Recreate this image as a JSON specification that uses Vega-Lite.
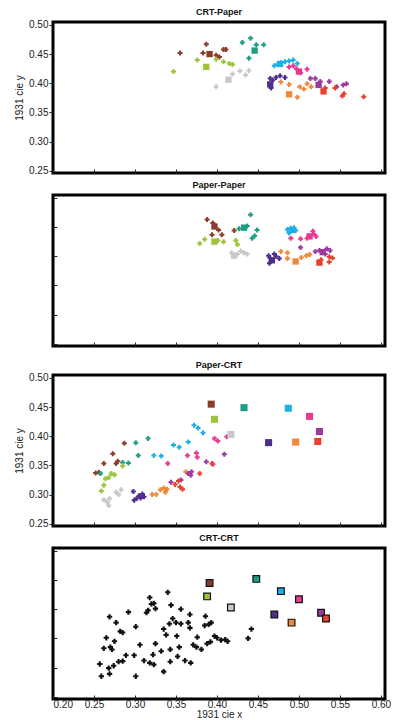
{
  "$schema": "https://vega.github.io/schema/vega-lite/v6.json",
  "padding": {"left": 13, "top": 6, "right": 4, "bottom": 2},
  "spacing": 1,
  "config": {
    "view": {"stroke": "black", "strokeWidth": 3},
    "font": "Liberation Sans",
    "title": {"fontSize": 9, "fontWeight": "bold", "offset": 3, "color": "#111"},
    "axis": {"grid": false, "domain": false, "labelFont": "Liberation Sans", "labelFontSize": 10, "labelColor": "#222", "tickColor": "#222", "titleFont": "Liberation Sans", "titleFontSize": 10, "titleFontWeight": "normal", "titleColor": "#222"}
  },
  "data": {"values": [
    {"p":1,"c":"brown","k":"m","x":0.355,"y":0.452},{"p":1,"c":"brown","k":"m","x":0.387,"y":0.467},{"p":1,"c":"brown","k":"m","x":0.383,"y":0.452},{"p":1,"c":"brown","k":"m","x":0.399,"y":0.448},{"p":1,"c":"brown","k":"m","x":0.408,"y":0.458},{"p":1,"c":"brown","k":"m","x":0.411,"y":0.458},{"p":1,"c":"brown","k":"m","x":0.403,"y":0.445},{"p":1,"c":"brown","k":"s","x":0.391,"y":0.450},
    {"p":1,"c":"yg","k":"m","x":0.347,"y":0.420},{"p":1,"c":"yg","k":"m","x":0.376,"y":0.440},{"p":1,"c":"yg","k":"m","x":0.399,"y":0.441},{"p":1,"c":"yg","k":"m","x":0.408,"y":0.437},{"p":1,"c":"yg","k":"m","x":0.415,"y":0.434},{"p":1,"c":"yg","k":"m","x":0.419,"y":0.432},{"p":1,"c":"yg","k":"s","x":0.387,"y":0.428},
    {"p":1,"c":"gray","k":"m","x":0.399,"y":0.394},{"p":1,"c":"gray","k":"m","x":0.419,"y":0.416},{"p":1,"c":"gray","k":"m","x":0.428,"y":0.421},{"p":1,"c":"gray","k":"m","x":0.435,"y":0.414},{"p":1,"c":"gray","k":"m","x":0.439,"y":0.422},{"p":1,"c":"gray","k":"s","x":0.414,"y":0.406},
    {"p":1,"c":"green","k":"m","x":0.431,"y":0.470},{"p":1,"c":"green","k":"m","x":0.441,"y":0.477},{"p":1,"c":"green","k":"m","x":0.448,"y":0.466},{"p":1,"c":"green","k":"m","x":0.457,"y":0.466},{"p":1,"c":"green","k":"m","x":0.439,"y":0.443},{"p":1,"c":"green","k":"s","x":0.446,"y":0.456},
    {"p":1,"c":"cyan","k":"m","x":0.470,"y":0.430},{"p":1,"c":"cyan","k":"m","x":0.474,"y":0.432},{"p":1,"c":"cyan","k":"m","x":0.478,"y":0.435},{"p":1,"c":"cyan","k":"m","x":0.483,"y":0.437},{"p":1,"c":"cyan","k":"m","x":0.488,"y":0.438},{"p":1,"c":"cyan","k":"m","x":0.493,"y":0.440},{"p":1,"c":"cyan","k":"m","x":0.498,"y":0.434},{"p":1,"c":"cyan","k":"s","x":0.477,"y":0.433},
    {"p":1,"c":"pink","k":"m","x":0.488,"y":0.428},{"p":1,"c":"pink","k":"m","x":0.493,"y":0.430},{"p":1,"c":"pink","k":"m","x":0.497,"y":0.425},{"p":1,"c":"pink","k":"m","x":0.502,"y":0.418},{"p":1,"c":"pink","k":"m","x":0.510,"y":0.424},{"p":1,"c":"pink","k":"s","x":0.500,"y":0.420},
    {"p":1,"c":"indigo","k":"m","x":0.465,"y":0.408},{"p":1,"c":"indigo","k":"m","x":0.468,"y":0.405},{"p":1,"c":"indigo","k":"m","x":0.472,"y":0.410},{"p":1,"c":"indigo","k":"m","x":0.477,"y":0.413},{"p":1,"c":"indigo","k":"m","x":0.483,"y":0.410},{"p":1,"c":"indigo","k":"m","x":0.466,"y":0.392},{"p":1,"c":"indigo","k":"s","x":0.465,"y":0.398},
    {"p":1,"c":"orange","k":"m","x":0.478,"y":0.402},{"p":1,"c":"orange","k":"m","x":0.488,"y":0.398},{"p":1,"c":"orange","k":"m","x":0.498,"y":0.376},{"p":1,"c":"orange","k":"m","x":0.501,"y":0.394},{"p":1,"c":"orange","k":"m","x":0.506,"y":0.390},{"p":1,"c":"orange","k":"m","x":0.510,"y":0.399},{"p":1,"c":"orange","k":"m","x":0.515,"y":0.394},{"p":1,"c":"orange","k":"s","x":0.488,"y":0.381},
    {"p":1,"c":"purple","k":"m","x":0.514,"y":0.408},{"p":1,"c":"purple","k":"m","x":0.520,"y":0.408},{"p":1,"c":"purple","k":"m","x":0.526,"y":0.403},{"p":1,"c":"purple","k":"m","x":0.537,"y":0.403},{"p":1,"c":"purple","k":"m","x":0.546,"y":0.394},{"p":1,"c":"purple","k":"m","x":0.554,"y":0.397},{"p":1,"c":"purple","k":"m","x":0.558,"y":0.399},{"p":1,"c":"purple","k":"s","x":0.524,"y":0.397},
    {"p":1,"c":"red","k":"m","x":0.532,"y":0.392},{"p":1,"c":"red","k":"m","x":0.544,"y":0.392},{"p":1,"c":"red","k":"m","x":0.553,"y":0.378},{"p":1,"c":"red","k":"m","x":0.555,"y":0.382},{"p":1,"c":"red","k":"m","x":0.579,"y":0.377},{"p":1,"c":"red","k":"s","x":0.530,"y":0.386},

    {"p":2,"c":"brown","k":"m","x":0.388,"y":0.463},{"p":2,"c":"brown","k":"m","x":0.395,"y":0.457},{"p":2,"c":"brown","k":"m","x":0.394,"y":0.437},{"p":2,"c":"brown","k":"m","x":0.402,"y":0.445},{"p":2,"c":"brown","k":"m","x":0.406,"y":0.437},{"p":2,"c":"brown","k":"m","x":0.421,"y":0.444},{"p":2,"c":"brown","k":"s","x":0.397,"y":0.451},
    {"p":2,"c":"green","k":"m","x":0.441,"y":0.471},{"p":2,"c":"green","k":"m","x":0.427,"y":0.447},{"p":2,"c":"green","k":"m","x":0.437,"y":0.452},{"p":2,"c":"green","k":"m","x":0.449,"y":0.445},{"p":2,"c":"green","k":"m","x":0.443,"y":0.431},{"p":2,"c":"green","k":"m","x":0.446,"y":0.435},{"p":2,"c":"green","k":"s","x":0.433,"y":0.449},
    {"p":2,"c":"yg","k":"m","x":0.379,"y":0.422},{"p":2,"c":"yg","k":"m","x":0.385,"y":0.429},{"p":2,"c":"yg","k":"m","x":0.401,"y":0.427},{"p":2,"c":"yg","k":"m","x":0.408,"y":0.425},{"p":2,"c":"yg","k":"m","x":0.423,"y":0.427},{"p":2,"c":"yg","k":"m","x":0.425,"y":0.420},{"p":2,"c":"yg","k":"s","x":0.397,"y":0.425},
    {"p":2,"c":"gray","k":"m","x":0.418,"y":0.406},{"p":2,"c":"gray","k":"m","x":0.425,"y":0.404},{"p":2,"c":"gray","k":"m","x":0.429,"y":0.409},{"p":2,"c":"gray","k":"m","x":0.433,"y":0.406},{"p":2,"c":"gray","k":"m","x":0.437,"y":0.404},{"p":2,"c":"gray","k":"s","x":0.421,"y":0.401},
    {"p":2,"c":"cyan","k":"m","x":0.486,"y":0.446},{"p":2,"c":"cyan","k":"m","x":0.490,"y":0.448},{"p":2,"c":"cyan","k":"m","x":0.494,"y":0.449},{"p":2,"c":"cyan","k":"m","x":0.496,"y":0.444},{"p":2,"c":"cyan","k":"m","x":0.488,"y":0.440},{"p":2,"c":"cyan","k":"s","x":0.492,"y":0.445},
    {"p":2,"c":"pink","k":"m","x":0.490,"y":0.431},{"p":2,"c":"pink","k":"m","x":0.502,"y":0.430},{"p":2,"c":"pink","k":"m","x":0.510,"y":0.431},{"p":2,"c":"pink","k":"m","x":0.518,"y":0.438},{"p":2,"c":"pink","k":"m","x":0.517,"y":0.443},{"p":2,"c":"pink","k":"m","x":0.521,"y":0.434},{"p":2,"c":"pink","k":"s","x":0.513,"y":0.434},
    {"p":2,"c":"indigo","k":"m","x":0.463,"y":0.401},{"p":2,"c":"indigo","k":"m","x":0.465,"y":0.397},{"p":2,"c":"indigo","k":"m","x":0.464,"y":0.388},{"p":2,"c":"indigo","k":"m","x":0.472,"y":0.400},{"p":2,"c":"indigo","k":"m","x":0.476,"y":0.396},{"p":2,"c":"indigo","k":"m","x":0.470,"y":0.404},{"p":2,"c":"indigo","k":"s","x":0.467,"y":0.393},
    {"p":2,"c":"orange","k":"m","x":0.478,"y":0.408},{"p":2,"c":"orange","k":"m","x":0.486,"y":0.406},{"p":2,"c":"orange","k":"m","x":0.486,"y":0.396},{"p":2,"c":"orange","k":"m","x":0.503,"y":0.398},{"p":2,"c":"orange","k":"m","x":0.509,"y":0.401},{"p":2,"c":"orange","k":"m","x":0.513,"y":0.403},{"p":2,"c":"orange","k":"s","x":0.496,"y":0.391},
    {"p":2,"c":"purple","k":"m","x":0.502,"y":0.415},{"p":2,"c":"purple","k":"m","x":0.520,"y":0.408},{"p":2,"c":"purple","k":"m","x":0.525,"y":0.410},{"p":2,"c":"purple","k":"m","x":0.534,"y":0.413},{"p":2,"c":"purple","k":"m","x":0.538,"y":0.410},{"p":2,"c":"purple","k":"m","x":0.532,"y":0.404},{"p":2,"c":"purple","k":"s","x":0.529,"y":0.407},
    {"p":2,"c":"red","k":"m","x":0.527,"y":0.394},{"p":2,"c":"red","k":"m","x":0.537,"y":0.399},{"p":2,"c":"red","k":"m","x":0.541,"y":0.397},{"p":2,"c":"red","k":"m","x":0.537,"y":0.390},{"p":2,"c":"red","k":"s","x":0.525,"y":0.389},

    {"p":3,"c":"brown","k":"m","x":0.252,"y":0.337},{"p":3,"c":"brown","k":"m","x":0.256,"y":0.338},{"p":3,"c":"brown","k":"m","x":0.262,"y":0.353},{"p":3,"c":"brown","k":"m","x":0.273,"y":0.370},{"p":3,"c":"brown","k":"m","x":0.277,"y":0.353},{"p":3,"c":"brown","k":"m","x":0.279,"y":0.357},{"p":3,"c":"brown","k":"m","x":0.287,"y":0.388},{"p":3,"c":"brown","k":"s","x":0.393,"y":0.455},
    {"p":3,"c":"green","k":"m","x":0.301,"y":0.389},{"p":3,"c":"green","k":"m","x":0.316,"y":0.396},{"p":3,"c":"green","k":"m","x":0.304,"y":0.367},{"p":3,"c":"green","k":"m","x":0.292,"y":0.354},{"p":3,"c":"green","k":"m","x":0.285,"y":0.355},{"p":3,"c":"green","k":"m","x":0.258,"y":0.336},{"p":3,"c":"green","k":"s","x":0.433,"y":0.449},
    {"p":3,"c":"yg","k":"m","x":0.259,"y":0.306},{"p":3,"c":"yg","k":"m","x":0.262,"y":0.316},{"p":3,"c":"yg","k":"m","x":0.264,"y":0.327},{"p":3,"c":"yg","k":"m","x":0.268,"y":0.329},{"p":3,"c":"yg","k":"m","x":0.271,"y":0.336},{"p":3,"c":"yg","k":"m","x":0.275,"y":0.334},{"p":3,"c":"yg","k":"m","x":0.285,"y":0.349},{"p":3,"c":"yg","k":"s","x":0.397,"y":0.429},
    {"p":3,"c":"gray","k":"m","x":0.262,"y":0.291},{"p":3,"c":"gray","k":"m","x":0.266,"y":0.287},{"p":3,"c":"gray","k":"m","x":0.268,"y":0.281},{"p":3,"c":"gray","k":"m","x":0.269,"y":0.293},{"p":3,"c":"gray","k":"m","x":0.277,"y":0.304},{"p":3,"c":"gray","k":"m","x":0.283,"y":0.308},{"p":3,"c":"gray","k":"m","x":0.280,"y":0.300},{"p":3,"c":"gray","k":"s","x":0.417,"y":0.403},
    {"p":3,"c":"cyan","k":"m","x":0.323,"y":0.367},{"p":3,"c":"cyan","k":"m","x":0.332,"y":0.366},{"p":3,"c":"cyan","k":"m","x":0.347,"y":0.385},{"p":3,"c":"cyan","k":"m","x":0.354,"y":0.381},{"p":3,"c":"cyan","k":"m","x":0.365,"y":0.390},{"p":3,"c":"cyan","k":"m","x":0.372,"y":0.419},{"p":3,"c":"cyan","k":"m","x":0.377,"y":0.414},{"p":3,"c":"cyan","k":"m","x":0.383,"y":0.406},{"p":3,"c":"cyan","k":"s","x":0.487,"y":0.448},
    {"p":3,"c":"pink","k":"m","x":0.340,"y":0.353},{"p":3,"c":"pink","k":"m","x":0.364,"y":0.367},{"p":3,"c":"pink","k":"m","x":0.375,"y":0.371},{"p":3,"c":"pink","k":"m","x":0.376,"y":0.364},{"p":3,"c":"pink","k":"m","x":0.397,"y":0.396},{"p":3,"c":"pink","k":"m","x":0.401,"y":0.392},{"p":3,"c":"pink","k":"m","x":0.412,"y":0.399},{"p":3,"c":"pink","k":"m","x":0.395,"y":0.352},{"p":3,"c":"pink","k":"s","x":0.513,"y":0.434},
    {"p":3,"c":"indigo","k":"m","x":0.298,"y":0.305},{"p":3,"c":"indigo","k":"m","x":0.299,"y":0.290},{"p":3,"c":"indigo","k":"m","x":0.302,"y":0.293},{"p":3,"c":"indigo","k":"m","x":0.305,"y":0.298},{"p":3,"c":"indigo","k":"m","x":0.307,"y":0.294},{"p":3,"c":"indigo","k":"m","x":0.309,"y":0.301},{"p":3,"c":"indigo","k":"m","x":0.311,"y":0.296},{"p":3,"c":"indigo","k":"s","x":0.463,"y":0.389},
    {"p":3,"c":"orange","k":"m","x":0.321,"y":0.300},{"p":3,"c":"orange","k":"m","x":0.326,"y":0.300},{"p":3,"c":"orange","k":"m","x":0.331,"y":0.308},{"p":3,"c":"orange","k":"m","x":0.335,"y":0.311},{"p":3,"c":"orange","k":"m","x":0.337,"y":0.304},{"p":3,"c":"orange","k":"m","x":0.339,"y":0.309},{"p":3,"c":"orange","k":"m","x":0.362,"y":0.339},{"p":3,"c":"orange","k":"s","x":0.496,"y":0.390},
    {"p":3,"c":"purple","k":"m","x":0.344,"y":0.321},{"p":3,"c":"purple","k":"m","x":0.356,"y":0.325},{"p":3,"c":"purple","k":"m","x":0.365,"y":0.336},{"p":3,"c":"purple","k":"m","x":0.368,"y":0.333},{"p":3,"c":"purple","k":"m","x":0.369,"y":0.339},{"p":3,"c":"purple","k":"m","x":0.387,"y":0.356},{"p":3,"c":"purple","k":"m","x":0.409,"y":0.369},{"p":3,"c":"purple","k":"s","x":0.525,"y":0.408},
    {"p":3,"c":"red","k":"m","x":0.349,"y":0.317},{"p":3,"c":"red","k":"m","x":0.353,"y":0.323},{"p":3,"c":"red","k":"m","x":0.355,"y":0.313},{"p":3,"c":"red","k":"m","x":0.358,"y":0.309},{"p":3,"c":"red","k":"m","x":0.379,"y":0.336},{"p":3,"c":"red","k":"m","x":0.394,"y":0.353},{"p":3,"c":"red","k":"s","x":0.523,"y":0.391},

    {"p":4,"c":"none","k":"m","x":0.340,"y":0.429},{"p":4,"c":"none","k":"m","x":0.318,"y":0.420},{"p":4,"c":"none","k":"m","x":0.323,"y":0.410},{"p":4,"c":"none","k":"m","x":0.320,"y":0.409},{"p":4,"c":"none","k":"m","x":0.325,"y":0.401},{"p":4,"c":"none","k":"m","x":0.314,"y":0.394},{"p":4,"c":"none","k":"m","x":0.316,"y":0.398},{"p":4,"c":"none","k":"m","x":0.292,"y":0.395},{"p":4,"c":"none","k":"m","x":0.269,"y":0.387},{"p":4,"c":"none","k":"m","x":0.277,"y":0.377},{"p":4,"c":"none","k":"m","x":0.282,"y":0.362},{"p":4,"c":"none","k":"m","x":0.285,"y":0.360},{"p":4,"c":"none","k":"m","x":0.301,"y":0.370},{"p":4,"c":"none","k":"m","x":0.344,"y":0.407},{"p":4,"c":"none","k":"m","x":0.356,"y":0.400},{"p":4,"c":"none","k":"m","x":0.367,"y":0.391},{"p":4,"c":"none","k":"m","x":0.346,"y":0.384},{"p":4,"c":"none","k":"m","x":0.342,"y":0.375},{"p":4,"c":"none","k":"m","x":0.350,"y":0.377},{"p":4,"c":"none","k":"m","x":0.356,"y":0.375},{"p":4,"c":"none","k":"m","x":0.365,"y":0.377},{"p":4,"c":"none","k":"m","x":0.367,"y":0.368},{"p":4,"c":"none","k":"m","x":0.386,"y":0.388},{"p":4,"c":"none","k":"m","x":0.385,"y":0.372},{"p":4,"c":"none","k":"m","x":0.390,"y":0.374},{"p":4,"c":"none","k":"m","x":0.393,"y":0.377},{"p":4,"c":"none","k":"m","x":0.335,"y":0.366},{"p":4,"c":"none","k":"m","x":0.338,"y":0.356},{"p":4,"c":"none","k":"m","x":0.351,"y":0.354},{"p":4,"c":"none","k":"m","x":0.376,"y":0.352},{"p":4,"c":"none","k":"m","x":0.265,"y":0.351},{"p":4,"c":"none","k":"m","x":0.275,"y":0.345},{"p":4,"c":"none","k":"m","x":0.262,"y":0.333},{"p":4,"c":"none","k":"m","x":0.270,"y":0.335},{"p":4,"c":"none","k":"m","x":0.272,"y":0.331},{"p":4,"c":"none","k":"m","x":0.306,"y":0.339},{"p":4,"c":"none","k":"m","x":0.325,"y":0.341},{"p":4,"c":"none","k":"m","x":0.332,"y":0.328},{"p":4,"c":"none","k":"m","x":0.343,"y":0.331},{"p":4,"c":"none","k":"m","x":0.354,"y":0.335},{"p":4,"c":"none","k":"m","x":0.371,"y":0.339},{"p":4,"c":"none","k":"m","x":0.375,"y":0.335},{"p":4,"c":"none","k":"m","x":0.381,"y":0.331},{"p":4,"c":"none","k":"m","x":0.388,"y":0.341},{"p":4,"c":"none","k":"m","x":0.392,"y":0.344},{"p":4,"c":"none","k":"m","x":0.397,"y":0.354},{"p":4,"c":"none","k":"m","x":0.400,"y":0.351},{"p":4,"c":"none","k":"m","x":0.405,"y":0.347},{"p":4,"c":"none","k":"m","x":0.410,"y":0.348},{"p":4,"c":"none","k":"m","x":0.413,"y":0.345},{"p":4,"c":"none","k":"m","x":0.289,"y":0.321},{"p":4,"c":"none","k":"m","x":0.299,"y":0.321},{"p":4,"c":"none","k":"m","x":0.280,"y":0.310},{"p":4,"c":"none","k":"m","x":0.285,"y":0.311},{"p":4,"c":"none","k":"m","x":0.274,"y":0.303},{"p":4,"c":"none","k":"m","x":0.268,"y":0.299},{"p":4,"c":"none","k":"m","x":0.257,"y":0.306},{"p":4,"c":"none","k":"m","x":0.259,"y":0.285},{"p":4,"c":"none","k":"m","x":0.269,"y":0.289},{"p":4,"c":"none","k":"m","x":0.301,"y":0.285},{"p":4,"c":"none","k":"m","x":0.311,"y":0.312},{"p":4,"c":"none","k":"m","x":0.318,"y":0.308},{"p":4,"c":"none","k":"m","x":0.323,"y":0.305},{"p":4,"c":"none","k":"m","x":0.322,"y":0.322},{"p":4,"c":"none","k":"m","x":0.335,"y":0.293},{"p":4,"c":"none","k":"m","x":0.343,"y":0.310},{"p":4,"c":"none","k":"m","x":0.352,"y":0.319},{"p":4,"c":"none","k":"m","x":0.361,"y":0.312},{"p":4,"c":"none","k":"m","x":0.368,"y":0.308},{"p":4,"c":"none","k":"m","x":0.442,"y":0.366},{"p":4,"c":"none","k":"m","x":0.438,"y":0.350},
    {"p":4,"c":"brown","k":"s","x":0.391,"y":0.445},{"p":4,"c":"yg","k":"s","x":0.388,"y":0.422},{"p":4,"c":"gray","k":"s","x":0.417,"y":0.403},{"p":4,"c":"green","k":"s","x":0.448,"y":0.452},{"p":4,"c":"cyan","k":"s","x":0.478,"y":0.431},{"p":4,"c":"pink","k":"s","x":0.500,"y":0.417},{"p":4,"c":"indigo","k":"s","x":0.470,"y":0.391},{"p":4,"c":"orange","k":"s","x":0.491,"y":0.377},{"p":4,"c":"purple","k":"s","x":0.527,"y":0.394},{"p":4,"c":"red","k":"s","x":0.533,"y":0.384}
  ]},
  "vconcat": [
    {
      "title": "CRT-Paper",
      "width": 332, "height": 151,
      "transform": [{"filter": "datum.p == 1"}],
      "encoding": {
        "x": {"field": "x", "type": "quantitative", "scale": {"domain": [0.2, 0.605], "nice": false, "zero": false}, "axis": {"values": [0.2,0.25,0.3,0.35,0.4,0.45,0.5,0.55,0.6], "labels": false, "tickSize": -4, "title": null}},
        "y": {"field": "y", "type": "quantitative", "scale": {"domain": [0.246, 0.505], "nice": false, "zero": false}, "axis": {"values": [0.25,0.3,0.35,0.4,0.45,0.5], "format": ".2f", "tickSize": 4, "labelPadding": 1, "title": "1931 cie y", "titlePadding": 4}},
        "color": {"field": "c", "type": "nominal", "scale": {"domain": ["brown","yg","gray","green","cyan","pink","indigo","orange","purple","red"], "range": ["#8c3b2a","#9cc43a","#c8c8c8","#1a9e86","#1cb0e6","#e8398f","#4f2d8f","#f0873a","#9b3a9e","#e8412e"]}, "legend": null}
      },
      "layer": [
        {"transform": [{"filter": "datum.k == 'm'"}], "mark": {"type": "point", "shape": "cross", "filled": true, "size": 25, "opacity": 1}},
        {"transform": [{"filter": "datum.k == 's'"}], "mark": {"type": "square", "size": 40, "opacity": 1}}
      ]
    },
    {
      "title": "Paper-Paper",
      "width": 332, "height": 151,
      "transform": [{"filter": "datum.p == 2"}],
      "encoding": {
        "x": {"field": "x", "type": "quantitative", "scale": {"domain": [0.2, 0.605], "nice": false, "zero": false}, "axis": {"values": [0.2,0.25,0.3,0.35,0.4,0.45,0.5,0.55,0.6], "labels": false, "tickSize": -4, "title": "1931 cie x", "titleColor": "transparent", "titleFontSize": 8, "titlePadding": 2}},
        "y": {"field": "y", "type": "quantitative", "scale": {"domain": [0.246, 0.505], "nice": false, "zero": false}, "axis": {"values": [0.25,0.3,0.35,0.4,0.45,0.5], "format": ".2f", "tickSize": -4, "labelPadding": 5, "labelColor": "transparent", "title": "1931 cie y", "titleColor": "transparent", "titlePadding": 4}},
        "color": {"field": "c", "type": "nominal", "scale": {"domain": ["brown","yg","gray","green","cyan","pink","indigo","orange","purple","red"], "range": ["#8c3b2a","#9cc43a","#c8c8c8","#1a9e86","#1cb0e6","#e8398f","#4f2d8f","#f0873a","#9b3a9e","#e8412e"]}, "legend": null}
      },
      "layer": [
        {"transform": [{"filter": "datum.k == 'm'"}], "mark": {"type": "point", "shape": "cross", "filled": true, "size": 25, "opacity": 1}},
        {"transform": [{"filter": "datum.k == 's'"}], "mark": {"type": "square", "size": 40, "opacity": 1}}
      ]
    },
    {
      "title": "Paper-CRT",
      "width": 332, "height": 151,
      "transform": [{"filter": "datum.p == 3"}],
      "encoding": {
        "x": {"field": "x", "type": "quantitative", "scale": {"domain": [0.2, 0.605], "nice": false, "zero": false}, "axis": {"values": [0.2,0.25,0.3,0.35,0.4,0.45,0.5,0.55,0.6], "labels": false, "tickSize": -4, "title": null}},
        "y": {"field": "y", "type": "quantitative", "scale": {"domain": [0.246, 0.505], "nice": false, "zero": false}, "axis": {"values": [0.25,0.3,0.35,0.4,0.45,0.5], "format": ".2f", "tickSize": 4, "labelPadding": 1, "title": "1931 cie y", "titlePadding": 4}},
        "color": {"field": "c", "type": "nominal", "scale": {"domain": ["brown","yg","gray","green","cyan","pink","indigo","orange","purple","red"], "range": ["#8c3b2a","#9cc43a","#c8c8c8","#1a9e86","#1cb0e6","#e8398f","#4f2d8f","#f0873a","#9b3a9e","#e8412e"]}, "legend": null}
      },
      "layer": [
        {"transform": [{"filter": "datum.k == 'm'"}], "mark": {"type": "point", "shape": "cross", "filled": true, "size": 25, "opacity": 1}},
        {"transform": [{"filter": "datum.k == 's'"}], "mark": {"type": "square", "size": 50, "opacity": 1}}
      ]
    },
    {
      "title": "CRT-CRT",
      "width": 332, "height": 151,
      "transform": [{"filter": "datum.p == 4"}],
      "encoding": {
        "x": {"field": "x", "type": "quantitative", "scale": {"domain": [0.2, 0.605], "nice": false, "zero": false}, "axis": {"values": [0.2,0.25,0.3,0.35,0.4,0.45,0.5,0.55,0.6], "format": ".2f", "labelPadding": 4, "tickSize": -4, "title": "1931 cie x", "titlePadding": 0}},
        "y": {"field": "y", "type": "quantitative", "scale": {"domain": [0.246, 0.505], "nice": false, "zero": false}, "axis": {"values": [0.25,0.3,0.35,0.4,0.45,0.5], "format": ".2f", "tickSize": -4, "labelPadding": 5, "labelColor": "transparent", "title": "1931 cie y", "titleColor": "transparent", "titlePadding": 4}}
      },
      "layer": [
        {"transform": [{"filter": "datum.k == 'm'"}], "mark": {"type": "point", "shape": "cross", "filled": true, "size": 28, "opacity": 1, "color": "#111"}},
        {"transform": [{"filter": "datum.k == 's'"}], "mark": {"type": "square", "size": 45, "opacity": 1, "stroke": "#111", "strokeWidth": 1.2},
         "encoding": {"color": {"field": "c", "type": "nominal", "scale": {"domain": ["brown","yg","gray","green","cyan","pink","indigo","orange","purple","red"], "range": ["#8c3b2a","#9cc43a","#c8c8c8","#1a9e86","#1cb0e6","#e8398f","#4f2d8f","#f0873a","#9b3a9e","#e8412e"]}, "legend": null}}}
      ]
    }
  ]
}
